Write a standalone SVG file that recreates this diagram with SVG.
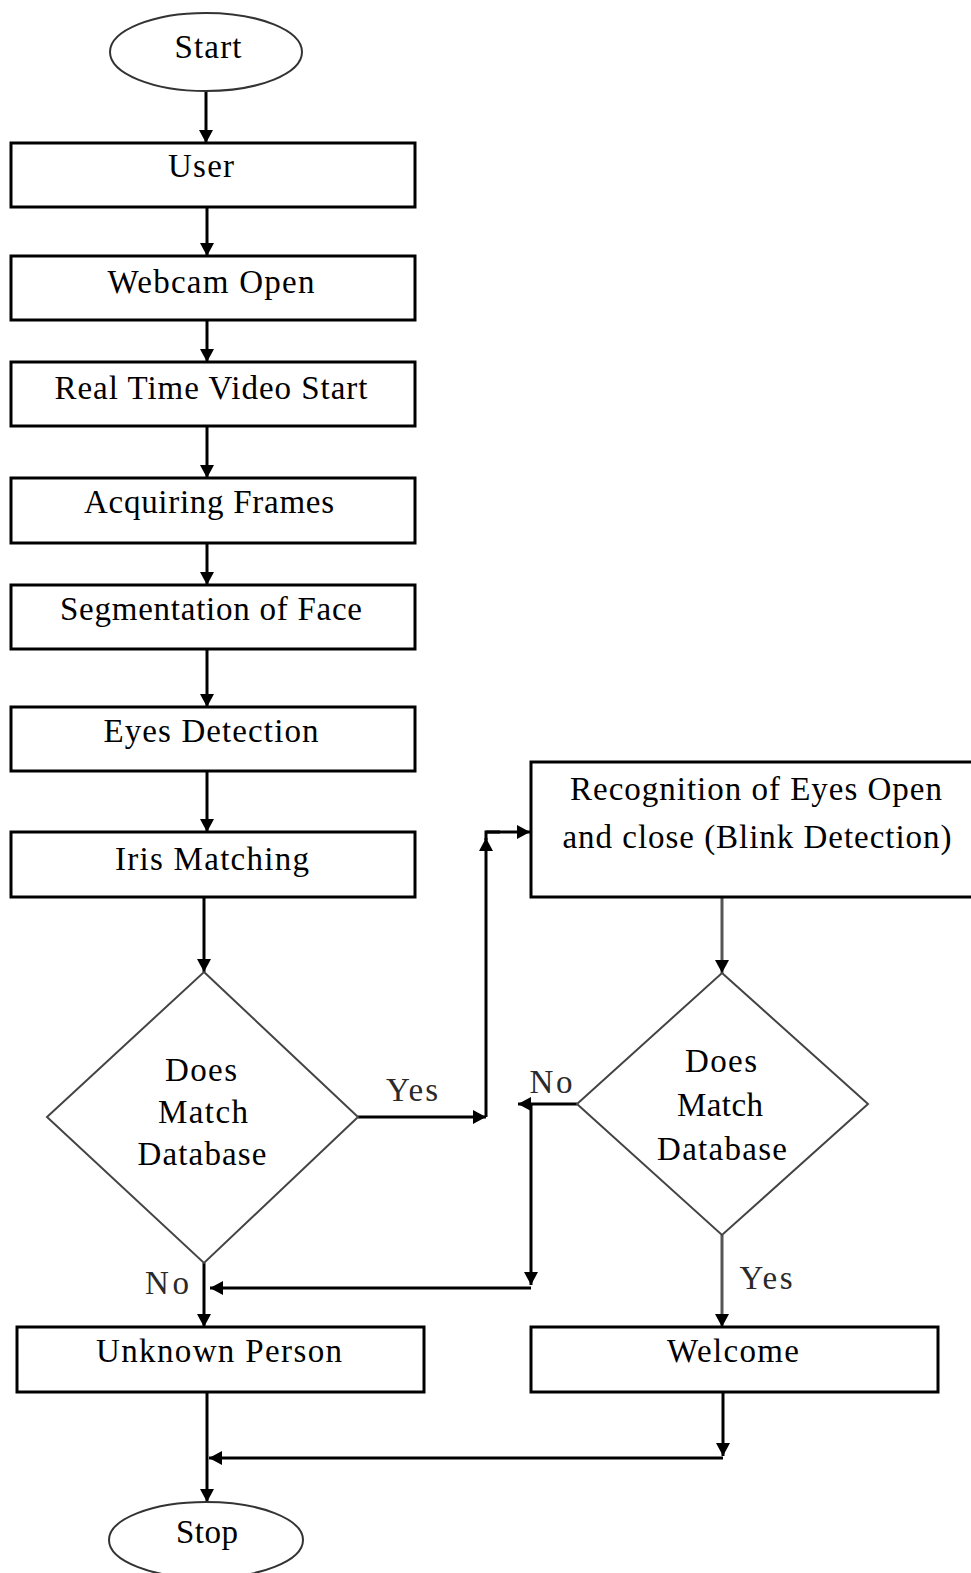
<svg xmlns="http://www.w3.org/2000/svg" width="971" height="1573" viewBox="0 0 971 1573">
  <style>
    .box { fill: #fff; stroke: #000; stroke-width: 3; }
    .dec { fill: #fff; stroke: #444; stroke-width: 2; }
    .term { fill: #fff; stroke: #333; stroke-width: 2; }
    .t { font-family: "Liberation Serif", "Times New Roman", serif; font-size: 33px; fill: #000; text-anchor: middle; }
    .lbl { font-family: "Liberation Serif", "Times New Roman", serif; font-size: 33px; fill: #2a2a2a; text-anchor: middle; }
    .c { fill: none; stroke: #000; stroke-width: 3; marker-end: url(#arrow); }
    .cg { fill: none; stroke: #555; stroke-width: 3; marker-end: url(#arrow); }
    .p { fill: none; stroke: #000; stroke-width: 3; }
  </style>
  <defs>
    <marker id="arrow" viewBox="0 0 13 14" refX="13" refY="7" markerWidth="13" markerHeight="14" markerUnits="userSpaceOnUse" orient="auto">
      <path d="M0,0 L13,7 L0,14 z" fill="#000"/>
    </marker>
  </defs>

  <!-- connectors -->
  <g id="connectors">
    <path class="c" d="M206,91 V143"/>
    <path class="c" d="M207,207 V256"/>
    <path class="c" d="M207,320 V362"/>
    <path class="c" d="M207,426 V478"/>
    <path class="c" d="M207,543 V585"/>
    <path class="c" d="M207,649 V707"/>
    <path class="c" d="M207,771 V832"/>
    <path class="c" d="M204,897 V972"/>
    <!-- yes branch of iris match -->
    <path class="c" d="M358,1117 H486"/>
    <path class="c" d="M486,1117 V838"/>
    <path class="p" d="M486,840 V832 H500"/>
    <path class="c" d="M486,832 H530"/>
    <path class="cg" d="M722,897 V973"/>
    <!-- no branch of blink match -->
    <path class="c" d="M577,1104 H518"/>
    <path class="c" d="M531,1104 V1285"/>
    <path class="c" d="M531,1288 H210"/>
    <path class="c" d="M204,1263 V1327"/>
    <path class="cg" d="M722,1235 V1327"/>
    <path class="c" d="M207,1392 V1502"/>
    <path class="c" d="M723,1392 V1456"/>
    <path class="c" d="M723,1458 H209"/>
  </g>

  <g id="start">
    <ellipse class="term" cx="206" cy="52" rx="96" ry="39"/>
    <text class="t" x="208" y="58" textLength="67">Start</text>
  </g>
  <g id="user">
    <rect class="box" x="11" y="143" width="404" height="64"/>
    <text class="t" x="201" y="177" textLength="66">User</text>
  </g>
  <g id="webcam">
    <rect class="box" x="11" y="256" width="404" height="64"/>
    <text class="t" x="211" y="293" textLength="207">Webcam Open</text>
  </g>
  <g id="video">
    <rect class="box" x="11" y="362" width="404" height="64"/>
    <text class="t" x="211" y="399" textLength="313">Real Time Video Start</text>
  </g>
  <g id="frames">
    <rect class="box" x="11" y="478" width="404" height="65"/>
    <text class="t" x="209" y="513" textLength="250">Acquiring Frames</text>
  </g>
  <g id="segmentation">
    <rect class="box" x="11" y="585" width="404" height="64"/>
    <text class="t" x="211" y="620" textLength="302">Segmentation of Face</text>
  </g>
  <g id="eyes">
    <rect class="box" x="11" y="707" width="404" height="64"/>
    <text class="t" x="211" y="742" textLength="215">Eyes Detection</text>
  </g>
  <g id="iris">
    <rect class="box" x="11" y="832" width="404" height="65"/>
    <text class="t" x="212" y="870" textLength="194">Iris Matching</text>
  </g>
  <g id="match1">
    <polygon class="dec" points="204,972 358,1117 204,1263 47,1117"/>
    <text class="t" x="201" y="1081" textLength="72">Does</text>
    <text class="t" x="203" y="1123" textLength="90">Match</text>
    <text class="t" x="202" y="1165" textLength="129">Database</text>
  </g>
  <g id="blink">
    <rect class="box" x="531" y="762" width="445" height="135"/>
    <text class="t" x="756" y="800" textLength="372">Recognition of Eyes Open</text>
    <text class="t" x="757" y="848" textLength="389">and close (Blink Detection)</text>
  </g>
  <g id="match2">
    <polygon class="dec" points="722,973 868,1104 722,1235 577,1104"/>
    <text class="t" x="721" y="1072" textLength="72">Does</text>
    <text class="t" x="720" y="1116" textLength="86">Match</text>
    <text class="t" x="722" y="1160" textLength="130">Database</text>
  </g>
  <g id="labels">
    <text class="lbl" x="412" y="1101" textLength="52">Yes</text>
    <text class="lbl" x="551" y="1093" textLength="43">No</text>
    <text class="lbl" x="167" y="1294" textLength="44">No</text>
    <text class="lbl" x="766" y="1289" textLength="53">Yes</text>
  </g>
  <g id="unknown">
    <rect class="box" x="17" y="1327" width="407" height="65"/>
    <text class="t" x="219" y="1362" textLength="246">Unknown Person</text>
  </g>
  <g id="welcome">
    <rect class="box" x="531" y="1327" width="407" height="65"/>
    <text class="t" x="733" y="1362" textLength="132">Welcome</text>
  </g>
  <g id="stop">
    <ellipse class="term" cx="206" cy="1540" rx="97" ry="38"/>
    <text class="t" x="207" y="1543" textLength="62">Stop</text>
  </g>
</svg>
